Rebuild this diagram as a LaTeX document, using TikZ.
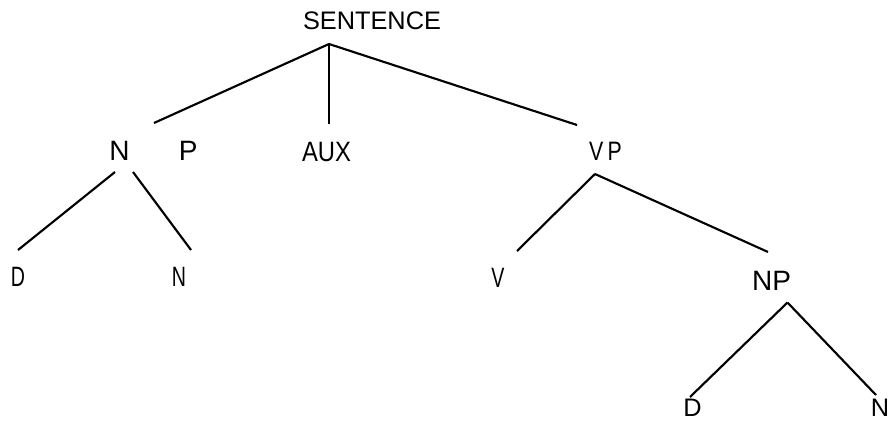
\documentclass[tikz,border=0pt]{standalone}
\usepackage{fontspec}
\setmainfont{Liberation Sans}
\newfontfamily\narrowfont[FakeStretch=0.7]{Liberation Sans}
\newfontfamily\vpfont[FakeStretch=0.8]{Liberation Sans}
\newfontfamily\auxfont[FakeStretch=0.85]{Liberation Sans}
\begin{document}
\begin{tikzpicture}[x=0.75pt, y=-0.75pt, inner sep=0pt,
    branch/.style={line width=1.6pt},
    phrase/.style={font=\fontsize{21}{21}\selectfont},
    lexical/.style={font=\narrowfont\fontsize{21}{21}\selectfont}]
    \useasboundingbox (0,0) rectangle (889,422);
    % labels
    \draw (372,21) node(sent){\fontsize{19}{19}\selectfont SENTENCE};
    \draw (153.5,151) node[phrase](np){N\hspace{37pt}P};
    \draw (326.5,152) node[phrase, font=\auxfont\fontsize{21}{21}\selectfont](aux){AUX};
    \draw (605.5,151.5) node[font=\vpfont\fontsize{20}{20}\selectfont](vp){V\,P};
    \draw (18,277) node[lexical](det1){D};
    \draw (179,277) node[lexical](noun1){N};
    \draw (498,278) node[lexical](verb){V};
    \draw (771.5,281) node[phrase](obj){NP};
    \draw (692.5,408) node[font=\fontsize{19}{19}\selectfont](det2){D};
    \draw (880,408) node[font=\fontsize{19}{19}\selectfont](noun2){N};
    % joints
    \coordinate (sent-root) at (329,44);
    \coordinate (np-top) at (154,123);
    \coordinate (aux-top) at (329,124);
    \coordinate (vp-top) at (577,125);
    \coordinate (np-left) at (115,172);
    \coordinate (np-right) at (133,172);
    \coordinate (det1-top) at (18,250);
    \coordinate (noun1-top) at (191,250);
    \coordinate (vp-root) at (595,174);
    \coordinate (verb-top) at (517,251);
    \coordinate (obj-top) at (768,252);
    \coordinate (obj-root) at (787.5,302.5);
    \coordinate (det2-top) at (690,397);
    \coordinate (noun2-top) at (876,395);
    % branches
    \draw[branch] (sent-root) -- (np-top);
    \draw[branch] (sent-root) -- (aux-top);
    \draw[branch] (sent-root) -- (vp-top);
    \draw[branch] (np-left) -- (det1-top);
    \draw[branch] (np-right) -- (noun1-top);
    \draw[branch] (vp-root) -- (verb-top);
    \draw[branch] (vp-root) -- (obj-top);
    \draw[branch] (obj-root) -- (det2-top);
    \draw[branch] (obj-root) -- (noun2-top);
\end{tikzpicture}
\end{document}
